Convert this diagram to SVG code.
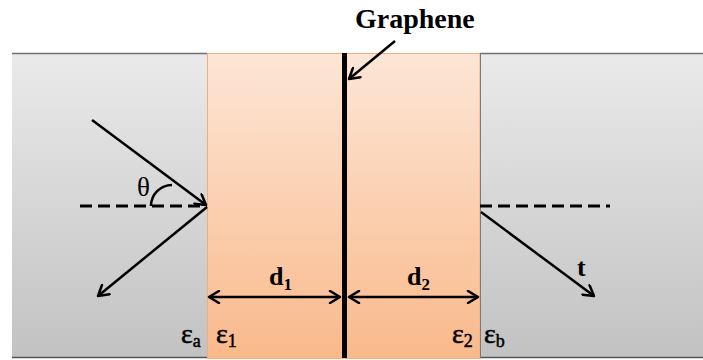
<svg xmlns="http://www.w3.org/2000/svg" width="703" height="360" viewBox="0 0 703 360">
<defs>
<linearGradient id="grey" x1="0" y1="0" x2="0" y2="1">
<stop offset="0" stop-color="#eaeaea"/>
<stop offset="1" stop-color="#c2c2c2"/>
</linearGradient>
<linearGradient id="orange" x1="0" y1="0" x2="0" y2="1">
<stop offset="0" stop-color="#fde6d6"/>
<stop offset="1" stop-color="#f9b98b"/>
</linearGradient>
<marker id="ah" viewBox="0 0 14 14" refX="12" refY="7" markerWidth="14" markerHeight="14" markerUnits="userSpaceOnUse" orient="auto-start-reverse">
<path d="M2,1 L12,7 L2,13" fill="none" stroke="#000" stroke-width="2.5" stroke-linecap="round" stroke-linejoin="round"/>
</marker>
<style>
.ray{stroke:#000;stroke-width:2.5;fill:none}
.dash{stroke:#000;stroke-width:3;stroke-dasharray:12 6;fill:none}
.tb{font-family:"Liberation Serif","Times New Roman",serif;font-weight:bold;fill:#000}
.tr{font-family:"Liberation Serif","Times New Roman",serif;fill:#000}
.eps{font-family:"Liberation Serif","Times New Roman",serif;fill:#000;stroke:#000;stroke-width:0.5}
</style>
</defs>
<g id="medium-a">
<rect x="12" y="53" width="195" height="305" fill="url(#grey)"/>
<line x1="12" y1="53.5" x2="207" y2="53.5" stroke="#707070" stroke-width="1.5"/>
<line x1="12" y1="357.5" x2="207" y2="357.5" stroke="#555" stroke-width="1.5"/>
</g>
<g id="layers">
<rect x="207.5" y="53.5" width="272.5" height="305" fill="url(#orange)" stroke="#f2ad7e" stroke-width="1"/>
</g>
<g id="medium-b">
<rect x="480" y="53" width="223" height="305" fill="url(#grey)"/>
<line x1="480" y1="53.5" x2="703" y2="53.5" stroke="#707070" stroke-width="1.5"/>
<line x1="480" y1="357.5" x2="703" y2="357.5" stroke="#555" stroke-width="1.5"/>
<line x1="480.5" y1="53" x2="480.5" y2="358" stroke="#7a7a7a" stroke-width="1"/>
</g>
<g id="graphene">
<rect x="342" y="53" width="5" height="305" fill="#000"/>
<text class="tb" x="355" y="28" font-size="28">Graphene</text>
</g>
<g id="connectors">
<line class="dash" x1="80" y1="206" x2="207" y2="206"/>
<line class="dash" x1="480" y1="206" x2="610" y2="206"/>
<line class="ray" x1="92" y1="120" x2="206" y2="205" marker-end="url(#ah)"/>
<line class="ray" x1="207" y1="207" x2="98" y2="296" marker-end="url(#ah)"/>
<line class="ray" x1="481" y1="212" x2="594" y2="296" marker-end="url(#ah)"/>
<line class="ray" x1="395" y1="41" x2="349" y2="79" marker-end="url(#ah)"/>
<line class="ray" x1="209" y1="297" x2="340" y2="297" marker-start="url(#ah)" marker-end="url(#ah)"/>
<line class="ray" x1="349" y1="297" x2="478" y2="297" marker-start="url(#ah)" marker-end="url(#ah)"/>
<path class="ray" d="M151,206 A21,21 0 0 1 172,185"/>
</g>
<g id="labels">
<text class="tr" x="137" y="196" font-size="27">θ</text>
<text class="tb" x="269" y="285" font-size="26">d<tspan font-size="17" dy="5">1</tspan></text>
<text class="tb" x="407" y="285" font-size="26">d<tspan font-size="17" dy="5">2</tspan></text>
<text class="tb" x="577" y="276" font-size="26">t</text>
<text class="eps" x="181" y="343" font-size="28">ε<tspan font-size="18" dy="4">a</tspan></text>
<text class="eps" x="216" y="343" font-size="28">ε<tspan font-size="18" dy="4">1</tspan></text>
<text class="eps" x="452" y="343" font-size="28">ε<tspan font-size="18" dy="4">2</tspan></text>
<text class="eps" x="484" y="343" font-size="28">ε<tspan font-size="18" dy="4">b</tspan></text>
</g>
</svg>
